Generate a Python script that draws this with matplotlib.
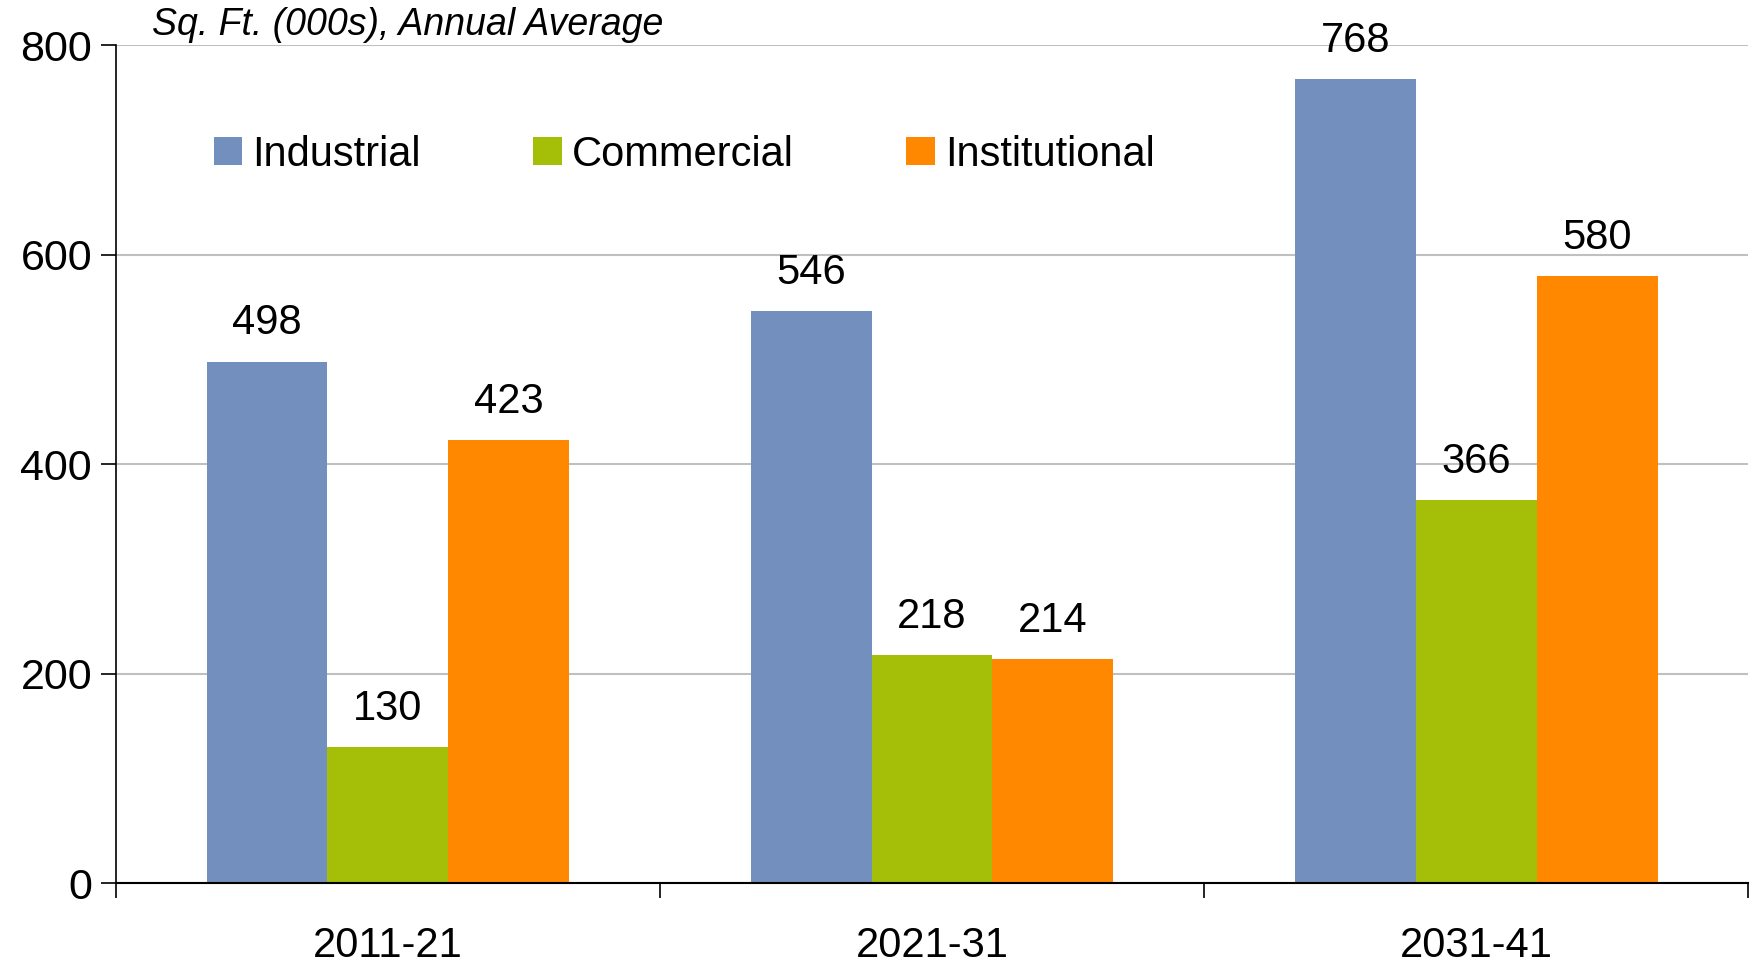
import numpy as np
import matplotlib
matplotlib.use("Agg")
import matplotlib.pyplot as plt

plt.rcParams['font.family'] = ['Liberation Sans', 'DejaVu Sans']

periods = ['2011-21', '2021-31', '2031-41']
series = ['Industrial', 'Commercial', 'Institutional']
industrial = [498, 546, 768]
commercial = [130, 218, 366]
institutional = [423, 214, 580]
colors = ['#728fbd', '#a5bf08', '#ff8800']

fig = plt.figure(figsize=(17.52, 9.64), dpi=100)
ax = fig.add_axes([0.066, 0.084, 0.932, 0.869])

x = np.arange(len(periods))
w = 0.222
for i, (vals, name, c) in enumerate(zip([industrial, commercial, institutional], series, colors)):
    pos = x + (i - 1) * w
    ax.bar(pos, vals, width=w, color=c, label=name, zorder=2)
    for px, v in zip(pos, vals):
        ax.annotate(str(v), (px, v), xytext=(0, 13), textcoords='offset points',
                    ha='center', va='bottom', fontsize=30)

ax.set_xlim(-0.5, 2.5)
ax.set_ylim(0, 800)
ax.set_yticks([0, 200, 400, 600, 800])
ax.yaxis.grid(True, color='#c0c0c0', linewidth=1.5, zorder=0)
ax.set_axisbelow(True)

ax.set_xticks([-0.5, 0.5, 1.5, 2.5])
ax.set_xticklabels([])
ax.set_xticks(x, minor=True)
ax.set_xticklabels(periods, minor=True)
ax.tick_params(axis='x', which='major', length=11, width=1.2, direction='out')
ax.tick_params(axis='x', which='minor', length=0, pad=31, labelsize=30)
ax.tick_params(axis='y', length=11, width=1.2, labelsize=31, pad=6)

for s in ['top', 'right']:
    ax.spines[s].set_visible(False)
ax.spines['left'].set_linewidth(1.2)
ax.spines['bottom'].set_linewidth(1.5)

ax.legend(loc='upper left', bbox_to_anchor=(0.037, 0.938), ncol=3, frameon=False,
          fontsize=30, handlelength=0.68, handleheight=0.68, handletextpad=0.25,
          columnspacing=2.7)

fig.text(0.087, 0.974, 'Sq. Ft. (000s), Annual Average', style='italic',
         fontsize=27, ha='left', va='center')

fig.savefig('out.png', dpi=100)
